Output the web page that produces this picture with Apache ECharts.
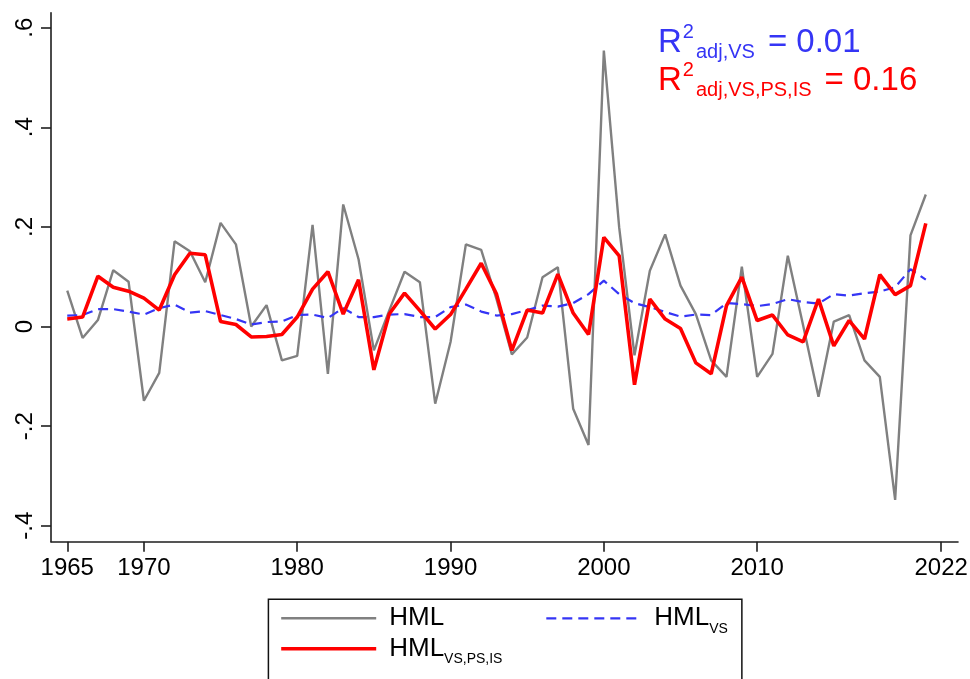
<!DOCTYPE html>
<html>
<head>
<meta charset="utf-8">
<script src="https://cdn.jsdelivr.net/npm/echarts@6/dist/echarts.min.js"></script>
<style>
  html, body { margin: 0; padding: 0; background: #fff; }
  #chart { width: 970px; height: 679px; }
</style>
</head>
<body>
<div id="chart"></div>
<script>
// yearly values
var years = [1965, 1966, 1967, 1968, 1969, 1970, 1971, 1972, 1973, 1974,
             1975, 1976, 1977, 1978, 1979, 1980, 1981, 1982, 1983, 1984,
             1985, 1986, 1987, 1988, 1989, 1990, 1991, 1992, 1993, 1994,
             1995, 1996, 1997, 1998, 1999, 2000, 2001, 2002, 2003, 2004,
             2005, 2006, 2007, 2008, 2009, 2010, 2011, 2012, 2013, 2014,
             2015, 2016, 2017, 2018, 2019, 2020, 2021];

var hml = [0.072, -0.023, 0.013, 0.113, 0.090, -0.149, -0.093, 0.171, 0.151, 0.089,
           0.208, 0.165, 0.000, 0.043, -0.068, -0.059, 0.204, -0.095, 0.245, 0.135,
           -0.048, 0.032, 0.110, 0.089, -0.155, -0.031, 0.165, 0.154, 0.055, -0.056,
           -0.022, 0.099, 0.119, -0.165, -0.238, 0.554, 0.199, -0.058, 0.112, 0.185,
           0.082, 0.025, -0.068, -0.101, 0.120, -0.101, -0.055, 0.142, 0.002, -0.141,
           0.010, 0.023, -0.068, -0.101, -0.348, 0.183, 0.265];

var hmlVs = [0.022, 0.023, 0.035, 0.035, 0.030, 0.024, 0.037, 0.044, 0.028, 0.031,
             0.023, 0.015, 0.004, 0.009, 0.010, 0.023, 0.024, 0.017, 0.037, 0.019,
             0.019, 0.024, 0.025, 0.019, 0.019, 0.039, 0.044, 0.030, 0.022, 0.025,
             0.033, 0.042, 0.040, 0.047, 0.065, 0.092, 0.065, 0.047, 0.039, 0.029,
             0.020, 0.024, 0.023, 0.047, 0.045, 0.041, 0.045, 0.055, 0.049, 0.046,
             0.065, 0.062, 0.067, 0.070, 0.079, 0.115, 0.094];

var hmlVsPsIs = [0.015, 0.019, 0.101, 0.079, 0.071, 0.057, 0.033, 0.104, 0.147, 0.144,
                 0.010, 0.004, -0.021, -0.020, -0.016, 0.019, 0.075, 0.110, 0.025, 0.094,
                 -0.087, 0.025, 0.067, 0.032, -0.005, 0.024, 0.075, 0.127, 0.065, -0.048,
                 0.033, 0.027, 0.105, 0.027, -0.016, 0.179, 0.142, -0.117, 0.055, 0.015,
                 -0.004, -0.073, -0.095, 0.042, 0.099, 0.012, 0.023, -0.017, -0.031, 0.055,
                 -0.039, 0.012, -0.025, 0.104, 0.064, 0.082, 0.207];

var xTicks = [1965, 1970, 1980, 1990, 2000, 2010, 2022];
var yTicks = [-0.4, -0.2, 0, 0.2, 0.4, 0.6];

var r2Vs = '0.01';
var r2All = '0.16';

var FONT = 'Liberation Sans';
var BLUE = '#3535f5';
var RED = '#ff0000';
var GRAY = '#808080';
var AXIS = '#1e1e1e';

function pairs(vals) {
    return years.map(function (y, i) { return [y, vals[i]]; });
}

function yLabel(v) {
    if (v === 0) return '0';
    var s = String(Math.abs(v)).replace(/^0/, '');
    return (v < 0 ? '-' : '') + s;
}

var legendText = {
    'HML': '{m1|HML}',
    'HML_VS': '{m|HML}{s|VS}',
    'HML_VS,PS,IS': '{m|HML}{s|VS,PS,IS}'
};

function r2Rich(col) {
    return {
        r: { fontFamily: FONT, fontSize: 33, lineHeight: 40, fill: col },
        sup: { fontFamily: FONT, fontSize: 20, lineHeight: 38, verticalAlign: 'top', fill: col, padding: [0, 0, 0, 1] },
        sub: { fontFamily: FONT, fontSize: 20, lineHeight: 20, verticalAlign: 'bottom', fill: col, padding: [0, 0, 0, 2] },
        eq: { fontFamily: FONT, fontSize: 33, lineHeight: 40, fill: col, padding: [0, 0, 0, 13] }
    };
}

var chart = echarts.init(document.getElementById('chart'), null, { renderer: 'canvas' });

var option = {
    animation: false,
    backgroundColor: '#fff',
    grid: {
        left: 51,
        right: 12,
        top: 12.7,
        bottom: 137.3,
        outerBoundsMode: 'none'
    },
    xAxis: {
        type: 'value',
        min: 1963.94,
        max: 2023.1,
        splitLine: { show: false },
        axisLine: { onZero: false, lineStyle: { color: AXIS, width: 1.6 } },
        axisTick: { length: 10, lineStyle: { color: AXIS, width: 1.6 }, customValues: xTicks },
        axisLabel: {
            customValues: xTicks,
            margin: 15,
            fontFamily: FONT,
            fontSize: 24,
            color: '#000',
            formatter: function (v) { return String(v); }
        }
    },
    yAxis: {
        type: 'value',
        min: -0.432,
        max: 0.630,
        splitLine: { show: false },
        axisLine: { show: true, onZero: false, lineStyle: { color: AXIS, width: 1.6 } },
        axisTick: { show: true, length: 10, lineStyle: { color: AXIS, width: 1.6 }, customValues: yTicks },
        axisLabel: {
            customValues: yTicks,
            rotate: 90,
            margin: 14,
            fontFamily: FONT,
            fontSize: 24,
            color: '#000',
            formatter: yLabel
        }
    },
    legend: {
        left: 268.4,
        top: 599.3,
        width: 452,
        orient: 'horizontal',
        padding: [6, 14, 24, 11],
        itemGap: 0,
        itemWidth: 95,
        itemHeight: 1,
        itemStyle: { opacity: 0 },
        lineStyle: { width: 'inherit' },
        borderColor: '#111',
        borderWidth: 1.5,
        data: ['HML', 'HML_VS', 'HML_VS,PS,IS'],
        formatter: function (name) { return legendText[name]; },
        textStyle: {
            color: '#000',
            rich: {
                m1: { fontFamily: FONT, fontSize: 26, lineHeight: 35, width: 156, padding: [0, 0, 0, 8] },
                m: { fontFamily: FONT, fontSize: 26, lineHeight: 35, padding: [0, 0, 0, 8] },
                s: { fontFamily: FONT, fontSize: 14, lineHeight: 13, verticalAlign: 'bottom' }
            }
        }
    },
    graphic: [
        {
            type: 'text',
            x: 658,
            y: 22.5,
            style: {
                text: '{r|R}{sup|2}{sub|adj,VS}{eq|= ' + r2Vs + '}',
                rich: r2Rich(BLUE),
                fill: BLUE,
                verticalAlign: 'top',
                align: 'left'
            }
        },
        {
            type: 'text',
            x: 658,
            y: 60.8,
            style: {
                text: '{r|R}{sup|2}{sub|adj,VS,PS,IS}{eq|= ' + r2All + '}',
                rich: r2Rich(RED),
                fill: RED,
                verticalAlign: 'top',
                align: 'left'
            }
        }
    ],
    series: [
        {
            name: 'HML',
            type: 'line',
            symbol: 'none',
            data: pairs(hml),
            lineStyle: { color: GRAY, width: 2.4 },
            itemStyle: { color: GRAY },
            z: 2
        },
        {
            name: 'HML_VS',
            type: 'line',
            symbol: 'none',
            data: pairs(hmlVs),
            lineStyle: { color: BLUE, width: 2.2, type: [10, 6] },
            itemStyle: { color: BLUE },
            z: 3
        },
        {
            name: 'HML_VS,PS,IS',
            type: 'line',
            symbol: 'none',
            data: pairs(hmlVsPsIs),
            lineStyle: { color: RED, width: 3.6 },
            itemStyle: { color: RED },
            z: 4
        }
    ]
};

chart.setOption(option);
</script>
</body>
</html>
